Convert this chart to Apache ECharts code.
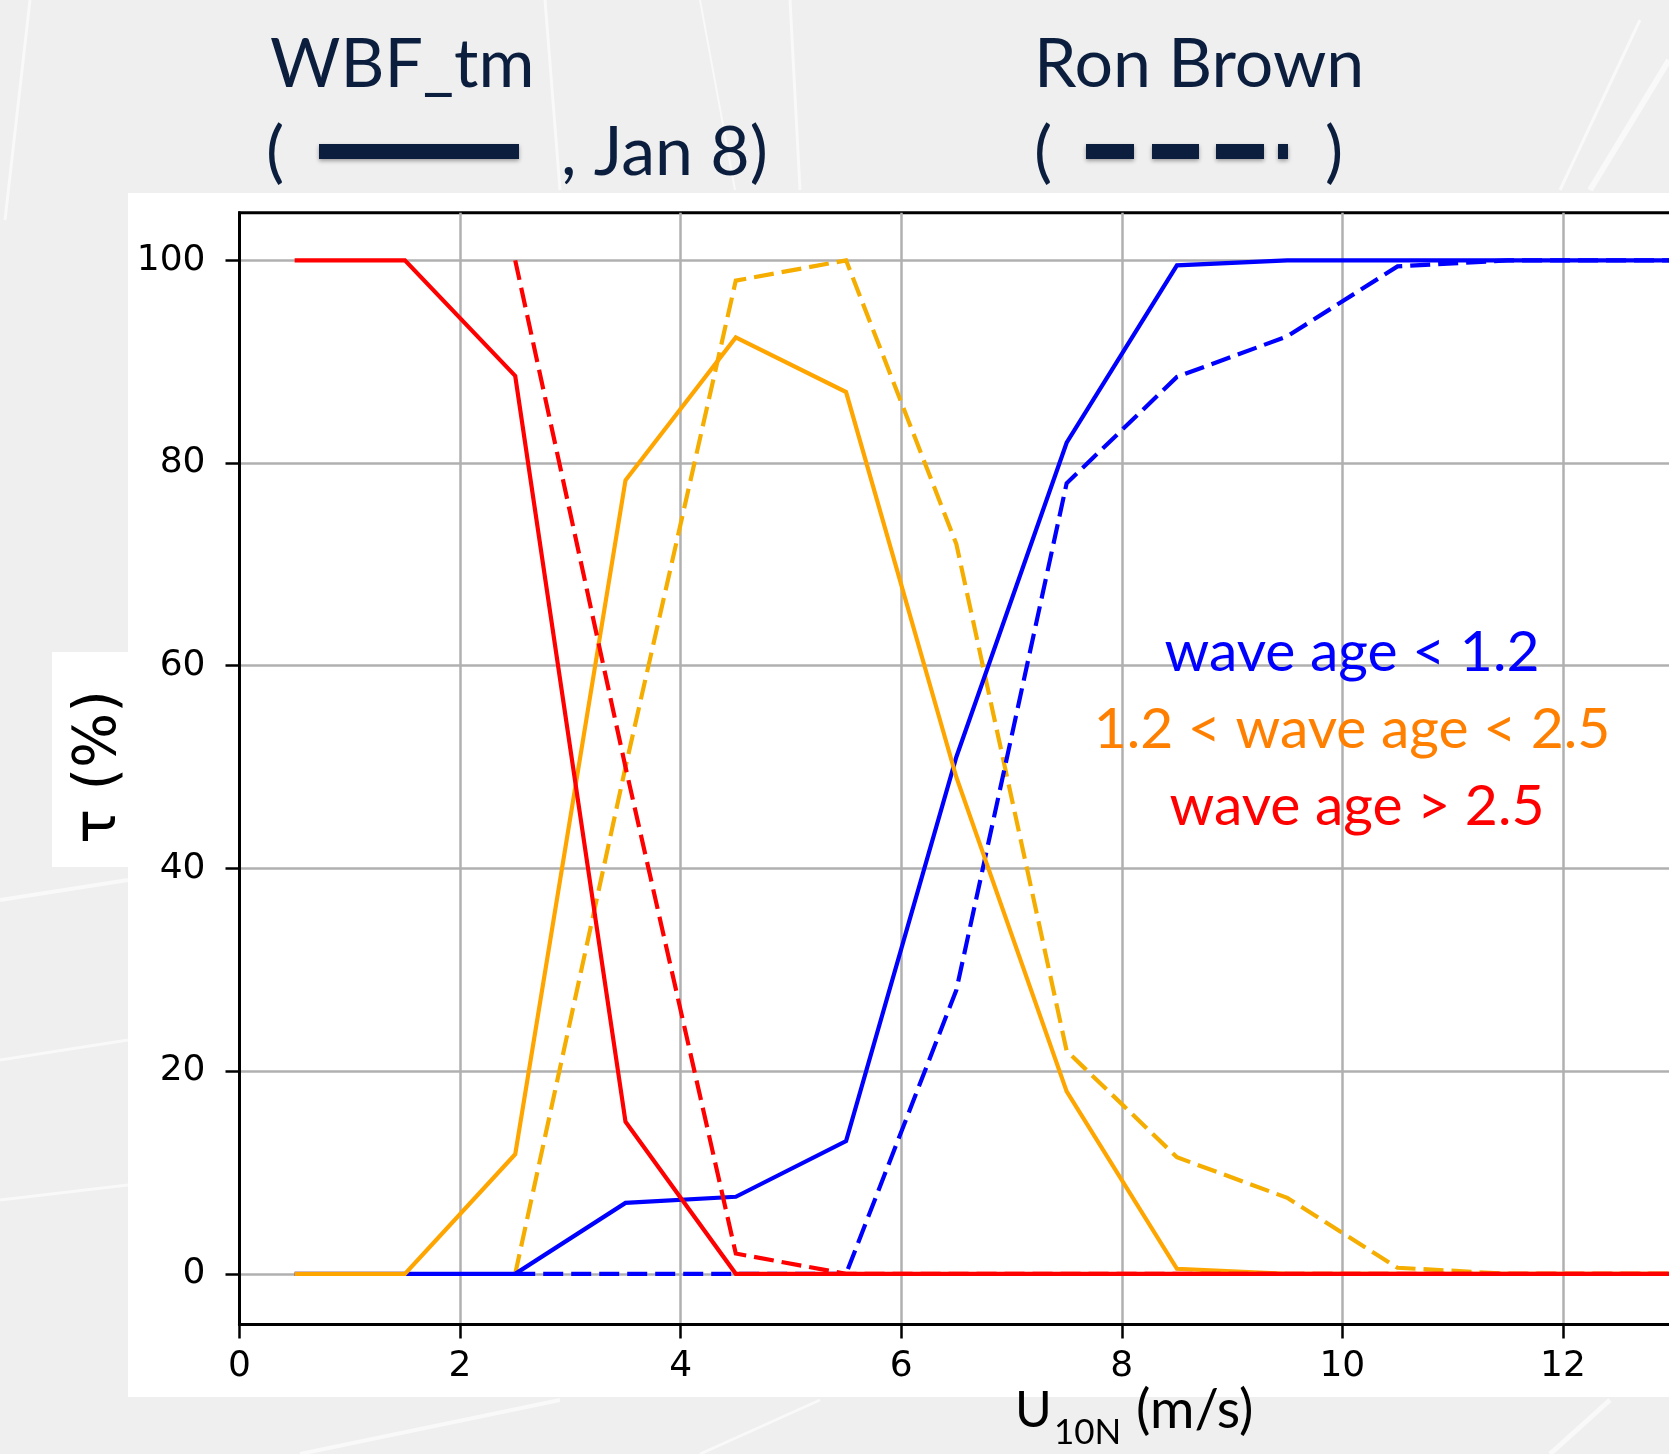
<!DOCTYPE html>
<html>
<head>
<meta charset="utf-8">
<script src="https://cdn.jsdelivr.net/npm/echarts@6/dist/echarts.min.js"></script>
<style>
html,body{margin:0;padding:0;background:#efefef;}
#chart{width:1669px;height:1454px;}
</style>
</head>
<body>
<div id="chart"></div>
<script>
// ---- data ----
const windBins = [0.5, 1.5, 2.5, 3.5, 4.5, 5.5, 6.5, 7.5, 8.5, 9.5, 10.5, 11.5, 12.5, 13.5];
// WBF_tm (solid)
const wbfYoung = [0, 0, 0, 7, 7.6, 13.1, 51, 82, 99.5, 100, 100, 100, 100, 100];
const wbfMid   = [0, 0, 11.8, 78.3, 92.4, 87, 49, 18, 0.5, 0, 0, 0, 0, 0];
const wbfOld   = [100, 100, 88.6, 15, 0, 0, 0, 0, 0, 0, 0, 0, 0, 0];
// Ron Brown (dashed)
const rbYoung = [null, null, 0, 0, 0, 0, 28, 78, 88.5, 92.5, 99.4, 100, 100, 100];
const rbMid   = [null, null, 0, 50, 98, 100, 72, 22, 11.5, 7.5, 0.6, 0, 0, 0];
const rbOld   = [null, null, 100, 50, 2, 0, 0, 0, 0, 0, 0, 0, 0, 0];
const yTicks = [0, 20, 40, 60, 80, 100];
const xTickStep = 2;

function pairs(vals) { return windBins.map((x, i) => [x, vals[i]]); }

const navy = '#0c1e3e';
const chart = echarts.init(document.getElementById('chart'), null, {renderer: 'canvas'});

function line(name, vals, color, dashed) {
  return {
    name: name, type: 'line', data: pairs(vals), symbol: 'none', showSymbol: false,
    silent: true, connectNulls: false,
    lineStyle: {color: color, width: 4.2, type: dashed ? [20, 8] : 'solid', cap: 'butt', join: 'miter'}
  };
}

function stroke(points, w) {
  return {type: 'polyline', z: -90, silent: true, shape: {points: points},
          style: {stroke: 'rgba(255,255,255,0.6)', lineWidth: w, fill: null}};
}

const option = {
  backgroundColor: '#efefef',
  animation: false,
  grid: {left: 239.5, top: 212.7, width: 1544, height: 1111.8, show: true,
         backgroundColor: '#ffffff', borderColor: '#000', borderWidth: 3,
         containLabel: false, outerBoundsMode: 'none'},
  xAxis: {
    type: 'value', min: 0, max: 14, interval: xTickStep,
    axisLine: {show: true, onZero: false, lineStyle: {color: '#000', width: 3}},
    axisTick: {show: true, length: 14, lineStyle: {color: '#000', width: 2.5}},
    axisLabel: {margin: 24, color: '#000', fontFamily: 'DejaVu Sans', fontSize: 36},
    splitLine: {show: true, lineStyle: {color: '#b0b0b0', width: 2.5}}
  },
  yAxis: {
    type: 'value', min: -5, max: 104.7,
    axisLine: {show: true, onZero: false, lineStyle: {color: '#000', width: 3}},
    axisTick: {show: true, length: 14, customValues: yTicks, lineStyle: {color: '#000', width: 2.5}},
    axisLabel: {margin: 34, customValues: yTicks, color: '#000', fontFamily: 'DejaVu Sans', fontSize: 36},
    splitLine: {show: true, lineStyle: {color: '#b0b0b0', width: 2.5}}
  },
  series: [
    line('Ron Brown 1.2 < wave age < 2.5', rbMid, '#f5ad00', true),
    line('Ron Brown wave age < 1.2', rbYoung, '#0000ff', true),
    line('WBF_tm wave age < 1.2', wbfYoung, '#0000ff', false),
    line('WBF_tm 1.2 < wave age < 2.5', wbfMid, '#ffa500', false),
    line('Ron Brown wave age > 2.5', rbOld, '#ff0000', true),
    line('WBF_tm wave age > 2.5', wbfOld, '#ff0000', false)
  ],
  graphic: {elements: [
    // faint background sketch strokes of the slide
    stroke([[30, 0], [5, 220]], 3),
    stroke([[545, 0], [560, 190]], 3),
    stroke([[700, 0], [735, 190]], 2),
    stroke([[790, 0], [800, 190]], 3),
    stroke([[1669, 60], [1590, 190]], 6),
    stroke([[1640, 20], [1560, 190]], 3),
    stroke([[0, 900], [128, 880]], 4),
    stroke([[0, 1060], [128, 1040]], 3),
    stroke([[0, 1200], [128, 1185]], 3),
    stroke([[300, 1454], [560, 1400]], 4),
    stroke([[700, 1454], [820, 1400]], 3),
    stroke([[1550, 1454], [1610, 1400]], 5),
    {type: 'rect', z: -100, silent: true, shape: {x: 128, y: 193, width: 1541, height: 1204}, style: {fill: '#ffffff'}},
    {type: 'rect', z: -100, silent: true, shape: {x: 52, y: 652, width: 76, height: 215}, style: {fill: '#ffffff'}},
    // y axis label
    {type: 'text', x: 100, y: 767, rotation: Math.PI / 2, silent: true,
     style: {text: 'τ (%)', font: '58px "DejaVu Sans"', fill: '#000', align: 'center', verticalAlign: 'middle'}},
    // x axis label
    {type: 'text', x: 1015, y: 1436, silent: true,
     style: {text: 'U', font: '50px Lato', fill: '#000', align: 'left', verticalAlign: 'bottom'}},
    {type: 'text', x: 1054, y: 1450, silent: true,
     style: {text: '10N', font: '35px Lato', fill: '#000', align: 'left', verticalAlign: 'bottom'}},
    {type: 'text', x: 1136, y: 1438, silent: true,
     style: {text: '(m/s)', font: '54px Lato', fill: '#000', align: 'left', verticalAlign: 'bottom'}},
    // titles
    {type: 'text', x: 270, y: 65, silent: true,
     style: {text: 'WBF_tm', font: '68px Lato', fill: navy, align: 'left', verticalAlign: 'middle'}},
    {type: 'text', x: 266, y: 153, silent: true,
     style: {text: '(', font: '68px Lato', fill: navy, align: 'left', verticalAlign: 'middle'}},
    {type: 'rect', silent: true, shape: {x: 319, y: 144, width: 200, height: 15},
     style: {fill: navy, shadowBlur: 4, shadowColor: 'rgba(0,0,0,0.35)', shadowOffsetY: 2}},
    {type: 'text', x: 561, y: 153, silent: true,
     style: {text: ', Jan 8)', font: '68px Lato', fill: navy, align: 'left', verticalAlign: 'middle'}},
    {type: 'text', x: 1034, y: 65, silent: true,
     style: {text: 'Ron Brown', font: '68px Lato', fill: navy, align: 'left', verticalAlign: 'middle'}},
    {type: 'text', x: 1034, y: 153, silent: true,
     style: {text: '(', font: '68px Lato', fill: navy, align: 'left', verticalAlign: 'middle'}},
    {type: 'rect', silent: true, shape: {x: 1086, y: 144, width: 48, height: 15},
     style: {fill: navy, shadowBlur: 4, shadowColor: 'rgba(0,0,0,0.35)', shadowOffsetY: 2}},
    {type: 'rect', silent: true, shape: {x: 1152, y: 144, width: 47, height: 15},
     style: {fill: navy, shadowBlur: 4, shadowColor: 'rgba(0,0,0,0.35)', shadowOffsetY: 2}},
    {type: 'rect', silent: true, shape: {x: 1216, y: 144, width: 48, height: 15},
     style: {fill: navy, shadowBlur: 4, shadowColor: 'rgba(0,0,0,0.35)', shadowOffsetY: 2}},
    {type: 'rect', silent: true, shape: {x: 1278, y: 144, width: 10, height: 15},
     style: {fill: navy, shadowBlur: 4, shadowColor: 'rgba(0,0,0,0.35)', shadowOffsetY: 2}},
    {type: 'text', x: 1325, y: 153, silent: true,
     style: {text: ')', font: '68px Lato', fill: navy, align: 'left', verticalAlign: 'middle'}},
    // in-plot annotations
    {type: 'text', x: 1352, y: 653, silent: true, z: 100,
     style: {text: 'wave age < 1.2', font: '57px Lato', fill: '#0000ff', align: 'center', verticalAlign: 'middle'}},
    {type: 'text', x: 1352, y: 730, silent: true, z: 100,
     style: {text: '1.2 < wave age < 2.5', font: '57px Lato', fill: '#ff8000', align: 'center', verticalAlign: 'middle'}},
    {type: 'text', x: 1357, y: 807, silent: true, z: 100,
     style: {text: 'wave age > 2.5', font: '57px Lato', fill: '#ff0000', align: 'center', verticalAlign: 'middle'}}
  ]}
};
chart.setOption(option);
</script>
</body>
</html>
